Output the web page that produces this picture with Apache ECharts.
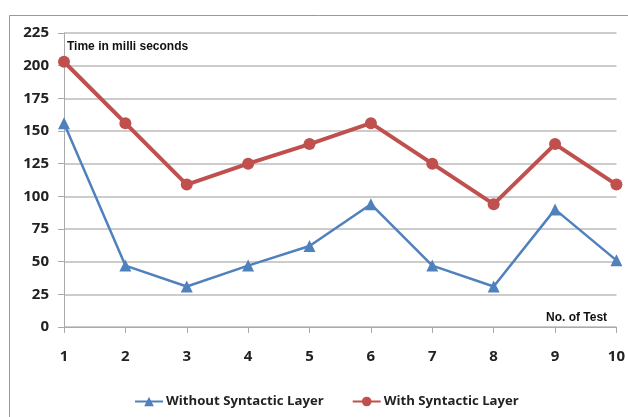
<!DOCTYPE html>
<html><head><meta charset="utf-8">
<script src="https://cdn.jsdelivr.net/npm/echarts@6/dist/echarts.min.js"></script>
<style>html,body{margin:0;padding:0;background:#fff}#c{width:628px;height:417px}</style>
</head><body><div id="c"></div>
<script>
var categories = ['1','2','3','4','5','6','7','8','9','10'];
var withoutLayer = [156, 47, 31, 47, 62, 94, 47, 31, 90, 51];
var withLayer = [203, 156, 109, 125, 140, 156, 125, 94, 140, 109];
var seriesNames = ['Without Syntactic Layer', 'With Syntactic Layer'];
var yTicks = [0, 25, 50, 75, 100, 125, 150, 175, 200, 225];

var chart = echarts.init(document.getElementById('c'), null, {renderer:'canvas'});
chart.setOption({
  animation: false,
  backgroundColor: '#fff',
  graphic: [
    {type:'line', shape:{x1:9.5,y1:15.5,x2:628,y2:15.5}, style:{stroke:'#999',lineWidth:1}},
    {type:'line', shape:{x1:9.5,y1:15.5,x2:9.5,y2:417}, style:{stroke:'#999',lineWidth:1}},
    {type:'text', left:67, top:41, style:{text:'Time in milli seconds', font:'bold 12px "Liberation Sans", Arial', fill:'#111'}},
    {type:'text', left:546, top:312, style:{text:'No. of Test', font:'bold 12px "Liberation Sans", Arial', fill:'#111'}}
  ],
  grid: {left:64, right:10, top:33, bottom:90},
  legend: {
    bottom: 4, left: 129, itemGap: 28, itemWidth: 28, itemHeight: 12,
    textStyle: {fontFamily:'"Open Sans", sans-serif', fontSize:13.2, fontWeight:'bold', color:'#222', padding:[0,0,0,-2]},
    data: seriesNames
  },
  xAxis: {
    type:'category', data: categories, boundaryGap:false,
    axisLine:{lineStyle:{color:'#aaa'}},
    axisTick:{show:true, length:6, lineStyle:{color:'#aaa'}},
    axisLabel:{fontFamily:'"Open Sans", sans-serif', fontSize:15, fontWeight:'bold', color:'#222', margin:22}
  },
  yAxis: {
    type:'value', min: yTicks[0], max: yTicks[yTicks.length-1], interval: 25,
    axisLine:{show:true, lineStyle:{color:'#aaa'}},
    axisTick:{show:true, length:6, lineStyle:{color:'#aaa'}},
    splitLine:{lineStyle:{color:'#bbb', width:1.5}},
    axisLabel:{fontFamily:'"Open Sans", sans-serif', fontSize:15, fontWeight:'bold', color:'#222', margin:15}
  },
  series: [
    {name: seriesNames[0], type:'line', data: withoutLayer, symbol:'triangle', symbolSize:12,
     lineStyle:{color:'#4F81BD', width:2.5}, itemStyle:{color:'#4F81BD'}},
    {name: seriesNames[1], type:'line', data: withLayer, symbol:'circle', symbolSize:12,
     lineStyle:{color:'#C0504D', width:4}, itemStyle:{color:'#C0504D'}}
  ]
});
</script></body></html>
